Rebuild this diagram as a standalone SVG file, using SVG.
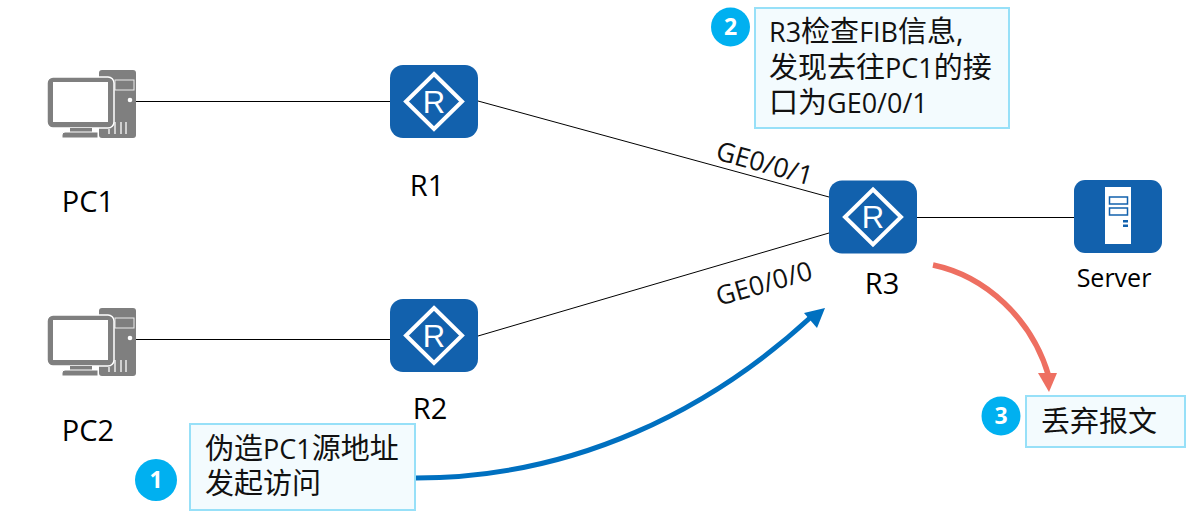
<svg xmlns="http://www.w3.org/2000/svg" width="1203" height="519" viewBox="0 0 1203 519">
<style>
text{font-family:"Open Sans","Noto Sans CJK SC",sans-serif;fill:#000}
.lbl{font-size:29px}
.note{font-size:29px;fill:#111}
.port{font-size:26.500px;fill:#111}
.lat{font-size:27px}
.box{fill:#f3fbfe;stroke:#97e0f8;stroke-width:2}
.num{fill:#00b0f0}
.numt{font-size:23px;font-weight:700;fill:#fff;text-anchor:middle}
.blue{fill:#1261ad}
.link{stroke:#000;stroke-width:1;fill:none}
.pc{fill:#7f7f7f}
</style>
<defs>
<g id="router">
<rect x="-44" y="-36.500" width="88" height="73" rx="13" class="blue"/>
<path d="M0-27.500 L28 0 L0 27.500 L-28 0Z" fill="none" stroke="#fff" stroke-width="4"/>
<text x="0" y="11" text-anchor="middle" style="font-family:'Liberation Sans',sans-serif;font-size:31px;fill:#fff">R</text>
</g>
<g id="computer">
<rect x="99" y="70" width="37" height="68" rx="3" class="pc"/>
<rect x="115" y="80" width="19" height="10" fill="none" stroke="#ececec" stroke-width="1"/>
<circle cx="130" cy="100" r="2.300" fill="#fff"/>
<path d="M109 129V134M115 122V134M121 122V134M126 122V134" stroke="#ececec" stroke-width="1.500" fill="none"/>
<rect x="47" y="77" width="67" height="51" rx="6" class="pc" stroke="#fff" stroke-width="1.500"/>
<rect x="53" y="82" width="55" height="40" fill="#fff"/>
<rect x="70" y="128" width="22" height="4" class="pc"/>
<path class="pc" d="M62 138V135a3 3 0 0 1 3-3H98V138Z" stroke="#fff" stroke-width="1"/>
</g>
</defs>
<g id="connectors">
<path class="link" d="M136 101.500H390"/>
<path class="link" d="M136 339.500H390"/>
<path class="link" d="M478 101L829 197"/>
<path class="link" d="M478 336L829 233"/>
<path class="link" d="M917 217.500H1074"/>
<path d="M416 478C575 478 710 410 811 317" fill="none" stroke="#0070c0" stroke-width="5"/>
<path d="M825 308L817 328L804 313Z" fill="#0070c0"/>
<path d="M933 265C985 276 1032 318 1049 377" fill="none" stroke="#ee6f61" stroke-width="5.500"/>
<path d="M1049 392L1038 373L1057 373Z" fill="#ee6f61"/>
</g>
<g id="PC1"><use href="#computer"/><text class="lbl" x="88" y="212" text-anchor="middle">PC1</text></g>
<g id="PC2"><use href="#computer" y="238"/><text class="lbl" x="88" y="441" text-anchor="middle">PC2</text></g>
<g id="R1"><use href="#router" x="434" y="101.500"/><text class="lbl" x="427" y="196" text-anchor="middle">R1</text></g>
<g id="R2"><use href="#router" x="434" y="335.500"/><text class="lbl" x="430" y="419" text-anchor="middle">R2</text></g>
<g id="R3"><use href="#router" x="873" y="217"/><text class="lbl" x="882" y="294" text-anchor="middle">R3</text></g>
<g id="Server">
<rect x="1074" y="180" width="88" height="73" rx="11" class="blue"/>
<rect x="1105" y="187" width="26" height="57" fill="#fff"/>
<rect x="1109.500" y="197" width="18" height="7" fill="none" stroke="#1261ad" stroke-width="1.500"/>
<rect x="1109.500" y="208" width="18" height="7" fill="none" stroke="#1261ad" stroke-width="1.500"/>
<rect x="1123" y="220" width="5" height="2.500" fill="#1261ad"/>
<rect x="1123" y="224.500" width="5" height="2.500" fill="#1261ad"/>
<text x="1114" y="287" text-anchor="middle" font-size="25">Server</text>
</g>
<text class="port" transform="translate(714.500 159) rotate(15.500)">GE0/0/1</text>
<text class="port" transform="translate(719 306) rotate(-16)">GE0/0/0</text>
<g id="note1">
<rect class="box" x="190" y="424" width="225" height="86"/>
<circle class="num" cx="156" cy="480" r="21"/><text class="numt" x="156" y="488">1</text>
<text class="note" x="205" y="459">伪造<tspan class="lat">PC1</tspan>源地址<tspan x="205" dy="35">发起访问</tspan></text>
</g>
<g id="note2">
<rect class="box" x="755" y="8" width="254" height="120"/>
<circle class="num" cx="730.500" cy="27" r="19.500"/><text class="numt" x="730.500" y="35">2</text>
<text class="note" x="769" y="42"><tspan class="lat">R3</tspan>检查<tspan class="lat">FIB</tspan>信息,<tspan x="769" dy="36">发现去往</tspan><tspan class="lat">PC1</tspan>的接<tspan x="769" dy="35">口为</tspan><tspan class="lat">GE0/0/1</tspan></text>
</g>
<g id="note3">
<rect class="box" x="1026" y="396" width="159" height="51"/>
<circle class="num" cx="1001" cy="416" r="19.500"/><text class="numt" x="1001" y="424">3</text>
<text class="note" x="1041" y="432">丢弃报文</text>
</g>
</svg>
